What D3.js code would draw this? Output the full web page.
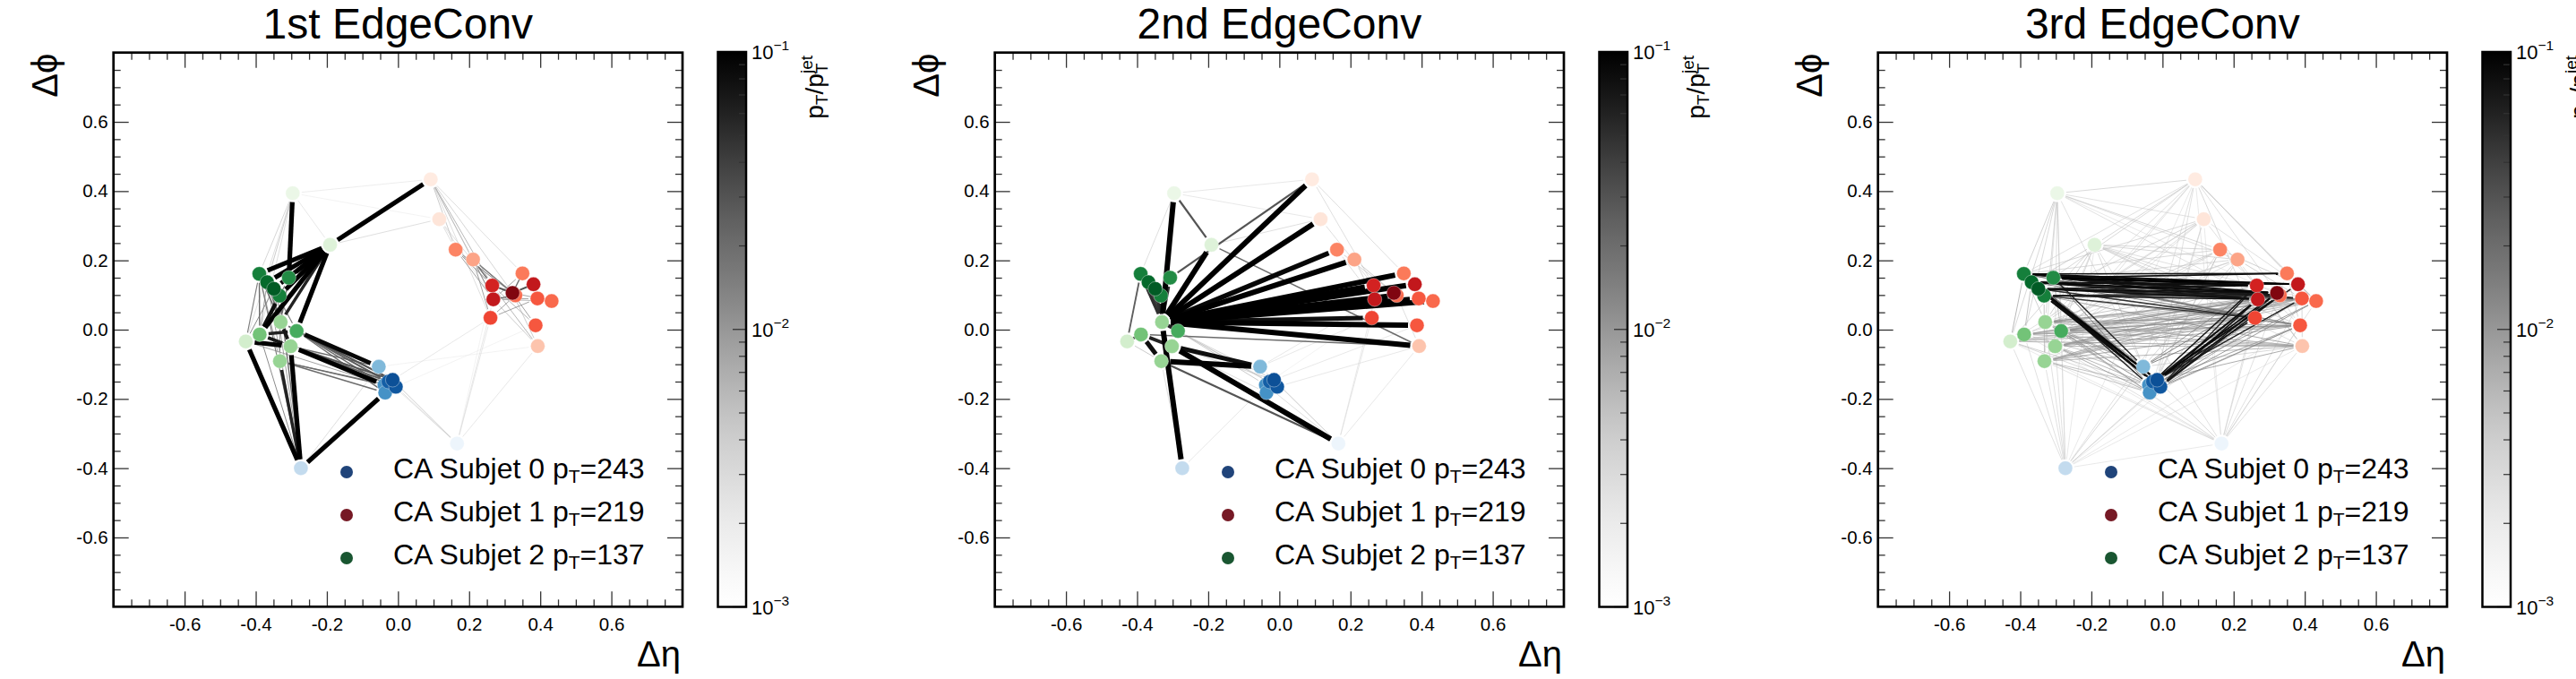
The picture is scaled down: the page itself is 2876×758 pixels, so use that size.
<!DOCTYPE html>
<html><head><meta charset="utf-8">
<script src="https://cdn.jsdelivr.net/npm/d3@7"></script>
<style>
body{margin:0;background:#fff}
svg{display:block}
text{font-family:"Liberation Sans",Arial,Helvetica,sans-serif;fill:#000}
</style></head>
<body><svg id="c" width="2876" height="758"></svg>
<script>
// ---------------- DATA ----------------
const panelTitles = ["1st EdgeConv", "2nd EdgeConv", "3rd EdgeConv"];
const xMajorTicks = [-0.6, -0.4, -0.2, 0.0, 0.2, 0.4, 0.6];
const yMajorTicks = [-0.6, -0.4, -0.2, 0.0, 0.2, 0.4, 0.6];
const minorTicks = [-0.75,-0.7,-0.65,-0.55,-0.5,-0.45,-0.35,-0.3,-0.25,-0.15,-0.1,-0.05,0.05,0.1,0.15,0.25,0.3,0.35,0.45,0.5,0.55,0.65,0.7,0.75];
const cbMajorTicks = [1e-3, 1e-2, 1e-1];
const cbMajorLabels = ["−3", "−2", "−1"];
const cbMinorTicks = [2e-3,3e-3,4e-3,5e-3,6e-3,7e-3,8e-3,9e-3,2e-2,3e-2,4e-2,5e-2,6e-2,7e-2,8e-2,9e-2];
const subjetNames = ["CA Subjet 0", "CA Subjet 1", "CA Subjet 2"];
const subjetPt = [243, 219, 137];

// particles (nodes): id, Δη, Δφ, subjet, colour level within subjet colormap
const nodeIds = ["G1","G2","G3","G4","G5","G6","G7","G8","G9","G10","G11","G12","G13",
                 "B1","B2","B3","B4","B5","B6","B7","B8",
                 "R1","R2","R3","R4","R5","R6","R7","R8","R9","R10","R11","R12","R13","R14","R15"];
const nodeEta = [-0.296,-0.191,-0.390,-0.368,-0.349,-0.333,-0.307,-0.330,-0.285,-0.389,-0.428,-0.302,-0.332,
                 -0.054,-0.015,-0.006,-0.038,-0.036,-0.027,0.166,-0.273,
                 0.092,0.116,0.162,0.211,0.350,0.265,0.381,0.322,0.330,0.268,0.392,0.432,0.260,0.387,0.393];
const nodePhi = [0.394,0.245,0.161,0.137,0.118,0.098,0.150,0.022,-0.004,-0.014,-0.034,-0.048,-0.091,
                 -0.107,-0.145,-0.165,-0.160,-0.182,-0.150,-0.329,-0.400,
                 0.434,0.319,0.231,0.2025,0.1625,0.1275,0.131,0.106,0.099,0.0875,0.090,0.0825,0.034,0.0125,-0.0475];
const nodeSubjet = [2,2,2,2,2,2,2,2,2,2,2,2,2, 0,0,0,0,0,0,0,0, 1,1,1,1,1,1,1,1,1,1,1,1,1,1,1];
const nodeShade = [0.08,0.15,0.80,0.88,0.93,0.80,0.75,0.40,0.62,0.50,0.20,0.40,0.40,
                   0.45,0.88,0.85,0.62,0.62,0.82,0.05,0.25,
                   0.06,0.09,0.42,0.32,0.45,0.72,0.78,0.95,0.50,0.78,0.55,0.50,0.60,0.55,0.22];

// edges: [from, to, weight (pT/pT^jet colour scale)]
const edgesConv1 = [
 ["G2","R1",0.1],["G2","G3",0.1],["G2","G4",0.1],["G2","G5",0.09],["G2","G6",0.1],["G2","G7",0.1],
 ["G2","G9",0.1],["G2","G10",0.1],["G2","G8",0.06],["G1","G7",0.1],
 ["G11","G12",0.1],["G10","G12",0.07],["G8","G12",0.07],["G10","G6",0.08],["G10","G9",0.06],
 ["B8","G11",0.1],["B8","G12",0.1],["B8","G13",0.06],["B8","B5",0.1],
 ["G12","B4",0.1],["G9","B1",0.09],
 ["G9","B2",0.03],["G9","B6",0.025],["G9","B4",0.02],["G9","B5",0.02],["G12","B2",0.03],["G12","B6",0.025],
 ["G12","B1",0.02],["G12","B3",0.02],["G8","B2",0.02],["G8","B3",0.015],["G8","B6",0.015],["G13","B5",0.02],
 ["G13","B4",0.02],["G13","B3",0.015],["G10","B2",0.012],["G11","B4",0.01],
 ["G3","G8",0.02],["G4","G8",0.02],["G5","G9",0.015],["G6","G10",0.02],["G3","G11",0.015],["G4","G12",0.012],
 ["G7","G8",0.02],["G5","G12",0.012],["G3","G13",0.01],["G6","G13",0.012],["G7","G10",0.015],["G4","G10",0.01],
 ["G3","G10",0.02],["G5","G11",0.012],
 ["B8","G3",0.015],["B8","G4",0.01],["B8","G6",0.02],["B8","G5",0.01],["B8","G10",0.012],["B8","B1",0.004],
 ["G1","G3",0.005],["G1","G11",0.004],["G1","G4",0.006],["G1","G2",0.003],["G1","R1",0.0025],["G1","G10",0.004],
 ["R2","G2",0.004],["R2","G1",0.002],
 ["R1","R3",0.006],["R1","R4",0.006],["R1","R6",0.008],["R1","R10",0.006],["R1","R8",0.005],["R1","R13",0.004],["R1","R5",0.004],
 ["R2","R6",0.004],["R2","R3",0.004],["R2","R10",0.003],
 ["R3","R8",0.01],["R3","R6",0.012],["R3","R10",0.01],["R3","R9",0.008],
 ["R4","R8",0.015],["R4","R10",0.012],["R4","R9",0.015],["R4","R6",0.02],["R4","R13",0.01],
 ["R6","R8",0.03],["R10","R9",0.02],["R13","R9",0.01],["R13","R11",0.01],["R15","R6",0.008],["R15","R10",0.006],["R15","R8",0.006],
 ["R5","R8",0.02],["R7","R8",0.03],["R12","R8",0.01],["R14","R8",0.01],["R11","R10",0.01],["R12","R10",0.008],["R14","R6",0.008],["R5","R10",0.01],
 ["B7","B2",0.004],["B7","B3",0.004],["B7","R13",0.003],["B7","R10",0.003],["B7","R15",0.003],["B7","R6",0.002],["B7","B1",0.003],["B7","B6",0.003],
 ["B2","R13",0.003],["B1","R15",0.002],["B3","R14",0.002]
];
const edgesConv2 = [
 ["G8","R1",0.1],["G8","R2",0.1],["G8","R3",0.09],["G8","R4",0.1],["G8","R5",0.1],["G8","R6",0.1],["G8","R7",0.1],
 ["G8","R9",0.1],["G8","R10",0.1],["G8","R11",0.1],["G8","R12",0.1],["G8","R13",0.08],["G8","R14",0.1],["G8","R15",0.1],
 ["G8","G2",0.1],["G1","G8",0.1],["B8","G8",0.1],["B7","G12",0.1],["G13","B1",0.1],["G12","B1",0.08],
 ["G10","G13",0.08],["G10","G12",0.06],["G11","G10",0.04],["G8","G3",0.05],["G8","G6",0.06],["G8","G7",0.05],
 ["G8","G4",0.04],["G8","G5",0.05],["G8","G9",0.06],
 ["G1","G2",0.03],["G7","R1",0.03],["G11","G3",0.025],["G13","B7",0.03],["G2","R15",0.02],["G10","R15",0.02],
 ["G9","B4",0.006],["G9","B2",0.005],["G12","B2",0.005],["G8","B3",0.006],["G9","B6",0.004],["G12","B5",0.004],
 ["B7","B1",0.004],["B7","B2",0.004],["B7","R13",0.003],["B7","R15",0.003],["B7","R10",0.003],["B8","B4",0.003],["B8","G13",0.004],
 ["R1","R5",0.004],["R1","R6",0.004],["R2","R6",0.004],["R3","R8",0.005],["R4","R8",0.006],["R4","R10",0.005],
 ["R5","R11",0.004],["R3","R10",0.004],["R15","R9",0.004],
 ["G1","R1",0.003],["G1","R2",0.003],["G2","R2",0.004],["G1","G3",0.004],["G11","G13",0.006],
 ["B1","R13",0.003],["B2","R14",0.003],["B3","R15",0.003],["B1","R10",0.003],["B6","R9",0.002],["B4","B7",0.004]
];
const edgesConv3 = [
 ["G3","R6",0.08],["G3","R5",0.07],["G3","R7",0.09],["G3","R10",0.06],["G3","R8",0.07],
 ["G4","R6",0.08],["G4","R8",0.09],["G4","R7",0.07],["G4","R9",0.06],["G4","R10",0.07],
 ["G5","R10",0.08],["G5","R6",0.07],["G5","R8",0.08],["G5","R9",0.07],["G5","R13",0.05],["G5","R11",0.05],
 ["G6","R10",0.07],["G6","R9",0.06],["G6","R8",0.06],["G6","R13",0.05],
 ["G7","R6",0.09],["G7","R5",0.08],["G7","R7",0.1],["G7","R10",0.07],["G7","R8",0.08],["G7","R11",0.06],["G7","R9",0.06],
 ["G4","B2",0.08],["G5","B2",0.09],["G5","B6",0.08],["G6","B6",0.08],["G6","B3",0.07],["G5","B3",0.07],
 ["G7","B1",0.06],["G3","B4",0.06],["G4","B6",0.07],["G6","B2",0.08],
 ["B2","R10",0.08],["B2","R8",0.09],["B6","R9",0.08],["B3","R8",0.07],["B2","R13",0.07],["B3","R9",0.07],
 ["B6","R6",0.07],["B2","R11",0.06],["B3","R10",0.07],["B6","R7",0.06],["B3","R6",0.06],["B6","R10",0.07],
 ["G3","R13",0.02],["G4","R13",0.02],["G3","R11",0.03],["G6","R11",0.02],["G6","R14",0.015],["G7","R13",0.02],
 ["G4","R11",0.025],["G3","R14",0.015],["G5","R14",0.015],["G7","R14",0.012],["G6","R15",0.012],["G3","R12",0.02],
 ["G5","R12",0.015],["G7","R12",0.02],
 ["B1","R13",0.02],["B4","R13",0.02],["B5","R10",0.02],["B4","R6",0.02],["B1","R6",0.015],["B5","R13",0.015],
 ["B4","R11",0.015],["B1","R10",0.02],["B5","R14",0.01],["B4","R14",0.01],["B5","R11",0.012],["B3","R14",0.015],
 ["B2","R15",0.012],["B3","R12",0.015],["B6","R12",0.015],
 ["G8","B5",0.01],["G9","B5",0.01],["G12","B5",0.012],["G8","B4",0.01],["G3","B1",0.015],["G4","B1",0.015],["G7","B4",0.02],["G3","B2",0.03],
 ["G8","R13",0.015],["G8","R10",0.012],["G8","R14",0.012],["G9","R13",0.015],["G9","R14",0.012],["G9","R11",0.01],
 ["G10","R13",0.01],["G10","R15",0.008],["G11","R14",0.01],["G12","R14",0.012],["G12","R15",0.01],["G12","R11",0.01],
 ["G13","R15",0.01],["G13","R14",0.012],["G8","R15",0.008],["G9","R15",0.01],["G10","R14",0.01],["G11","R15",0.008],
 ["G9","R10",0.012],["G10","R9",0.01],["G12","R9",0.01],["G13","R12",0.008],["G8","R12",0.008],["G11","R12",0.006],
 ["G9","R12",0.008],["G13","R11",0.008],["G12","R12",0.006],["G8","R11",0.008],
 ["G10","R10",0.008],["G11","R13",0.007],["G13","R13",0.01],["G12","R13",0.012],["G8","R9",0.01],["G9","R9",0.01],
 ["G9","R6",0.008],["G8","R6",0.007],["G10","R11",0.006],["G13","R10",0.008],["G11","R11",0.005],["G12","R10",0.01],
 ["G10","R12",0.006],["G13","R9",0.007],
 ["G8","B1",0.01],["G9","B1",0.012],["G12","B4",0.01],["G13","B5",0.008],["G9","B4",0.01],["G8","B2",0.008],
 ["G11","B4",0.006],["G10","B1",0.007],["G13","B4",0.008],["G12","B2",0.008],["G11","B5",0.005],
 ["G3","G11",0.01],["G4","G10",0.008],["G6","G13",0.008],["G7","G9",0.008],["G3","G8",0.006],
 ["G1","R1",0.005],["G1","R3",0.005],["G1","R4",0.004],["G1","G11",0.005],["G1","G13",0.004],["G1","G10",0.005],
 ["G1","B8",0.003],["G1","R2",0.004],["G1","G9",0.005],["G1","G3",0.006],["G1","B1",0.004],["G1","R10",0.004],
 ["G1","G8",0.005],["G1","G12",0.004],["G1","R9",0.003],
 ["R1","G2",0.005],["R1","G7",0.005],["R1","R5",0.005],["R1","R7",0.004],["R1","R12",0.004],["R1","R14",0.004],
 ["R1","B1",0.004],["R1","R13",0.005],["R1","G3",0.004],["R1","B2",0.004],["R1","G9",0.004],["R1","G8",0.004],["R1","G12",0.004],
 ["R2","G3",0.005],["R2","R15",0.004],["R2","G8",0.005],["R2","B2",0.004],["R2","G12",0.004],["R2","R7",0.004],["R2","G6",0.005],
 ["R2","G9",0.004],["R2","G11",0.004],["R2","B5",0.004],
 ["G2","R4",0.005],["G2","R12",0.004],["G2","B1",0.005],["G2","G11",0.005],["G2","R15",0.004],["G2","B7",0.004],
 ["G2","R14",0.005],["G2","G4",0.006],["G2","R3",0.005],["G2","G8",0.006],["G2","G9",0.005],["G2","R10",0.005],
 ["G2","R13",0.005],["G2","G13",0.004],
 ["R3","G3",0.005],["R3","R14",0.004],["R3","B5",0.005],["R3","G9",0.005],["R3","R7",0.006],["R3","G12",0.004],
 ["R3","G10",0.005],["R3","B2",0.005],
 ["R4","G4",0.005],["R4","R15",0.004],["R4","G10",0.004],["R4","R11",0.006],["R4","B3",0.005],["R4","G8",0.005],
 ["R4","G13",0.004],["R4","B1",0.005],
 ["B7","R14",0.004],["B7","R15",0.004],["B7","G13",0.004],["B7","G10",0.003],["B7","R5",0.004],["B7","R1",0.003],
 ["B7","B8",0.003],["B7","R12",0.004],["B7","G9",0.003],["B7","R2",0.003],["B7","B2",0.005],["B7","R13",0.004],["B7","G11",0.003],
 ["B7","G8",0.003],["B7","G12",0.004],["B7","R10",0.004],["B7","R11",0.004],
 ["B8","G11",0.004],["B8","G8",0.004],["B8","G12",0.004],["B8","R3",0.004],["B8","R10",0.003],["B8","B5",0.005],
 ["B8","G2",0.003],["B8","R1",0.003],["B8","B1",0.005],["B8","G13",0.004],["B8","R13",0.003],
 ["B8","G9",0.004],["B8","R14",0.003],["B8","R15",0.003],["B8","G10",0.004],
 ["R15","G8",0.006],["R15","G11",0.006],["R14","G10",0.006],["R12","G12",0.006],["R11","G13",0.006],["R15","B1",0.005],["R14","B4",0.005],
 ["R5","R12",0.006],["R7","R12",0.006],["R11","R15",0.005],["R5","R14",0.005],["R6","R15",0.005],["R13","R7",0.006]
];

// ---------------- DRAWING ----------------
const svg = d3.select("#c");
const FONT = '"Liberation Sans",Arial,Helvetica,sans-serif';
const panelOffsets = [0, 984, 1970];
const edgeWidthRanges = [[0.6, 5.2], [0.6, 6.0], [0.6, 1.9]];
const edgeSets = [edgesConv1, edgesConv2, edgesConv3];
const cmaps = [d3.interpolateBlues, d3.interpolateReds, d3.interpolateGreens];
const frame = {l: 126.7, r: 762, t: 58.7, b: 677.3};
const cb = {l: 801.5, r: 833, t: 58, b: 677.5};

const nodes = nodeIds.map((id, i) => ({id, eta: nodeEta[i], phi: nodePhi[i], sj: nodeSubjet[i], shade: nodeShade[i]}));
const nodeById = new Map(nodes.map(n => [n.id, n]));
const wNorm = d3.scaleLog().domain([1e-3, 1e-1]).range([0, 1]).clamp(true);

const defs = svg.append("defs");
const grad = defs.append("linearGradient").attr("id", "cbgrad")
  .attr("x1", 0).attr("y1", 1).attr("x2", 0).attr("y2", 0);
d3.range(0, 1.0001, 0.05).forEach(t => grad.append("stop").attr("offset", t).attr("stop-color", d3.interpolateGreys(t)));

panelTitles.forEach((title, p) => {
  const g = svg.append("g").attr("transform", `translate(${panelOffsets[p]},0)`);
  const x = d3.scaleLinear().domain([-0.8, 0.8]).range([frame.l, frame.r]);
  const y = d3.scaleLinear().domain([-0.8, 0.8]).range([frame.b, frame.t]);

  // edges
  const [wmin, wmax] = edgeWidthRanges[p];
  const es = edgeSets[p].map(([s, t, w]) => ({s: nodeById.get(s), t: nodeById.get(t), w}))
    .sort((a, b) => a.w - b.w)
    .map(e => {
      const x1 = x(e.s.eta), y1 = y(e.s.phi), x2 = x(e.t.eta), y2 = y(e.t.phi);
      const L = Math.hypot(x2 - x1, y2 - y1) || 1;
      const sh = Math.min(10, L * 0.3);
      const ux = (x2 - x1) / L, uy = (y2 - y1) / L;
      return {x1: x1 + ux * sh, y1: y1 + uy * sh, x2: x2 - ux * sh, y2: y2 - uy * sh, t: wNorm(e.w)};
    });
  g.append("g").selectAll("line").data(es).join("line")
    .attr("x1", d => d.x1).attr("y1", d => d.y1).attr("x2", d => d.x2).attr("y2", d => d.y2)
    .attr("stroke", d => d3.interpolateGreys(d.t))
    .attr("stroke-width", d => wmin + (wmax - wmin) * Math.pow(d.t, 4));

  // nodes
  g.append("g").selectAll("circle").data(nodes.slice().sort((a, b) => a.shade - b.shade)).join("circle")
    .attr("cx", d => x(d.eta)).attr("cy", d => y(d.phi)).attr("r", 8)
    .attr("fill", d => cmaps[d.sj](d.shade))
    .attr("stroke", "#fff").attr("stroke-width", 0.6).attr("stroke-opacity", 0.6);

  // axes
  const styleAxis = (a, labels) => {
    a.select(".domain").remove();
    a.selectAll(".tick line").attr("stroke", "#333").attr("stroke-width", 1.3);
    a.attr("font-family", FONT).attr("font-size", 20.5);
    a.selectAll("text").attr("fill", "#000");
    if (!labels) a.selectAll("text").remove();
  };
  const fmt = d => d.toFixed(1);
  styleAxis(g.append("g").attr("transform", `translate(0,${frame.b})`)
    .call(d3.axisBottom(x).tickValues(xMajorTicks).tickSize(-17).tickSizeOuter(0).tickPadding(12).tickFormat(fmt)), true);
  styleAxis(g.append("g").attr("transform", `translate(0,${frame.b})`)
    .call(d3.axisBottom(x).tickValues(minorTicks).tickSize(-8).tickSizeOuter(0).tickFormat("")), false);
  styleAxis(g.append("g").attr("transform", `translate(0,${frame.t})`)
    .call(d3.axisTop(x).tickValues(xMajorTicks).tickSize(-17).tickSizeOuter(0).tickFormat("")), false);
  styleAxis(g.append("g").attr("transform", `translate(0,${frame.t})`)
    .call(d3.axisTop(x).tickValues(minorTicks).tickSize(-8).tickSizeOuter(0).tickFormat("")), false);
  styleAxis(g.append("g").attr("transform", `translate(${frame.l},0)`)
    .call(d3.axisLeft(y).tickValues(yMajorTicks).tickSize(-17).tickSizeOuter(0).tickPadding(6).tickFormat(fmt)), true);
  styleAxis(g.append("g").attr("transform", `translate(${frame.l},0)`)
    .call(d3.axisLeft(y).tickValues(minorTicks).tickSize(-8).tickSizeOuter(0).tickFormat("")), false);
  styleAxis(g.append("g").attr("transform", `translate(${frame.r},0)`)
    .call(d3.axisRight(y).tickValues(yMajorTicks).tickSize(-17).tickSizeOuter(0).tickFormat("")), false);
  styleAxis(g.append("g").attr("transform", `translate(${frame.r},0)`)
    .call(d3.axisRight(y).tickValues(minorTicks).tickSize(-8).tickSizeOuter(0).tickFormat("")), false);

  // frame
  g.append("rect").attr("x", frame.l).attr("y", frame.t)
    .attr("width", frame.r - frame.l).attr("height", frame.b - frame.t)
    .attr("fill", "none").attr("stroke", "#000").attr("stroke-width", 2.7);

  // title & axis labels
  g.append("text").attr("x", (frame.l + frame.r) / 2).attr("y", 43)
    .attr("text-anchor", "middle").attr("font-size", 48).text(title);
  g.append("text").attr("x", frame.r - 2).attr("y", 744)
    .attr("text-anchor", "end").attr("font-size", 40).text("Δη");
  g.append("text").attr("transform", `translate(64,${frame.t + 1}) rotate(-90)`)
    .attr("text-anchor", "end").attr("font-size", 40).text("Δϕ");

  // legend
  const leg = g.append("g");
  subjetNames.forEach((name, i) => {
    const by = 534 + i * 48;
    leg.append("circle").attr("cx", 387).attr("cy", by - 7).attr("r", 7)
      .attr("fill", cmaps[i](1)).attr("fill-opacity", 0.9);
    const t = leg.append("text").attr("x", 439).attr("y", by).attr("font-size", 32);
    t.append("tspan").text(name + " p");
    t.append("tspan").attr("font-size", 21).attr("dy", 5).text("T");
    t.append("tspan").attr("dy", -5).text("=" + subjetPt[i]);
  });

  // colorbar
  const cs = d3.scaleLog().domain([1e-3, 1e-1]).range([cb.b, cb.t]);
  g.append("rect").attr("x", cb.l).attr("y", cb.t).attr("width", cb.r - cb.l).attr("height", cb.b - cb.t)
    .attr("fill", "url(#cbgrad)");
  g.append("g").selectAll("line").data(cbMinorTicks).join("line")
    .attr("x1", cb.r).attr("x2", cb.r - 8).attr("y1", d => cs(d)).attr("y2", d => cs(d))
    .attr("stroke", "#333").attr("stroke-width", 1.2);
  g.append("g").selectAll("line").data(cbMajorTicks).join("line")
    .attr("x1", cb.r).attr("x2", cb.r - 15).attr("y1", d => cs(d)).attr("y2", d => cs(d))
    .attr("stroke", "#333").attr("stroke-width", 1.3);
  g.append("rect").attr("x", cb.l).attr("y", cb.t).attr("width", cb.r - cb.l).attr("height", cb.b - cb.t)
    .attr("fill", "none").attr("stroke", "#000").attr("stroke-width", 2.5);
  cbMajorTicks.forEach((v, i) => {
    const t = g.append("text").attr("x", cb.r + 6).attr("y", cs(v) + 8).attr("font-size", 22);
    t.append("tspan").text("10");
    t.append("tspan").attr("font-size", 15.5).attr("dy", -10).text(cbMajorLabels[i]);
  });
  const cl = g.append("text").attr("transform", `translate(919,${cb.t + 4}) rotate(-90)`)
    .attr("text-anchor", "end").attr("font-size", 28);
  cl.append("tspan").text("p");
  cl.append("tspan").attr("font-size", 19).attr("dy", 5).text("T");
  cl.append("tspan").attr("dy", -5).text("/p");
  cl.append("tspan").attr("font-size", 19).attr("dy", 5).text("T");
  cl.append("tspan").attr("font-size", 19).attr("dx", -11.5).attr("dy", -17).text("jet");
});
</script>
</body></html>
